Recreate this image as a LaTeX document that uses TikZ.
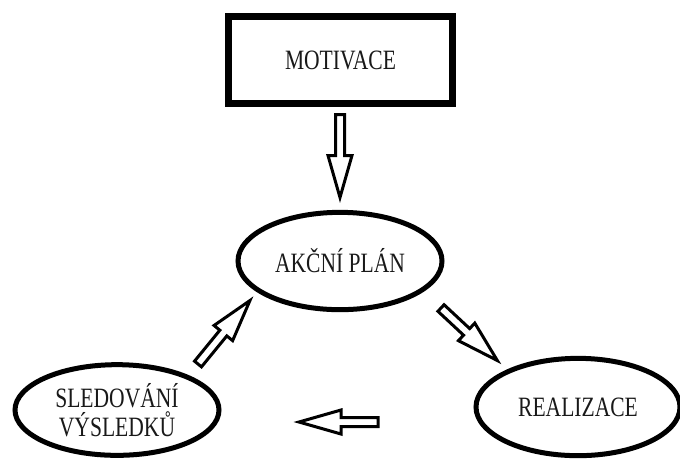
\documentclass[tikz,border=0pt]{standalone}
\usepackage{fontspec}
\setmainfont{Liberation Serif}[FakeStretch=0.77]
\usetikzlibrary{shapes.geometric}

\tikzset{
  labeltext/.style={font=\fontsize{21}{21.75}\selectfont, text=black!90},
  box/.style={draw, rectangle, line width=5.25pt, minimum width=168pt, minimum height=65pt, inner sep=0pt, labeltext},
  oval/.style={draw, ellipse, line width=3.75pt, minimum width=153pt, minimum height=73pt, inner sep=0pt, align=center, labeltext},
  pics/blockarrow/.style={code={
    \draw[line width=2.25pt] (0,-4.5) -- (#1-42,-4.5) -- (#1-42,-12) -- (#1,0)
      -- (#1-42,12) -- (#1-42,4.5) -- (0,4.5) -- cycle;
  }}
}

\begin{document}
\begin{tikzpicture}[x=0.75pt, y=0.75pt]
  \useasboundingbox (0,0) rectangle (680,-462);

  % nodes
  \node[box] (motiv) at (340.5,-60) {MOTIVACE};
  \node[oval] (plan) at (340,-261) {AKČNÍ PLÁN};
  \node[oval] (real) at (578,-407) {REALIZACE};
  \node[oval, minimum height=68pt] (sled) at (117,-410) {SLEDOVÁNÍ\\VÝSLEDKŮ};

  % ends of the arrows
  \coordinate (mot-out) at (340,-114.5);
  \coordinate (plan-in) at (340,-202);
  \coordinate (plan-out) at (441,-308);
  \coordinate (real-in) at (500,-363);
  \coordinate (real-out) at (378,-422);
  \coordinate (sled-in) at (295,-422);
  \coordinate (sled-out) at (198,-364);
  \coordinate (plan-in2) at (252,-298);

  % hollow arrows
  \path (mot-out) -- (plan-in) pic[pos=0, sloped, allow upside down] {blockarrow=83};
  \path (plan-out) -- (real-in) pic[pos=0, sloped, allow upside down] {blockarrow=77};
  \path (real-out) -- (sled-in) pic[pos=0, sloped, allow upside down] {blockarrow=79};
  \path (sled-out) -- (plan-in2) pic[pos=0, sloped, allow upside down] {blockarrow=82};
\end{tikzpicture}
\end{document}
